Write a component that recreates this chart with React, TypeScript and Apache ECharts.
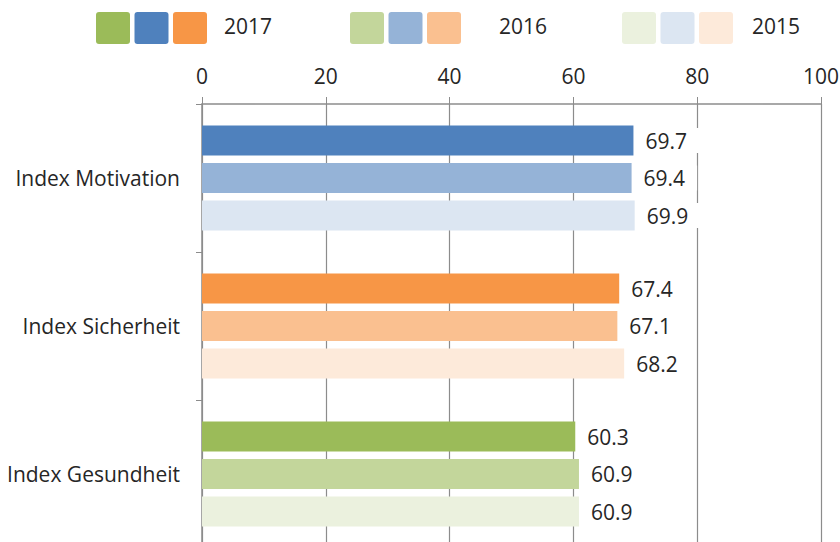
import React, { useEffect, useRef } from "react";
import * as echarts from "echarts";

const categories = ["Index Motivation", "Index Sicherheit", "Index Gesundheit"];
const years = ["2017", "2016", "2015"];
const values2017 = [69.7, 67.4, 60.3];
const values2016 = [69.4, 67.1, 60.9];
const values2015 = [69.9, 68.2, 60.9];
const xTicks = { min: 0, max: 100, interval: 20 };

// colours per year, per category (Motivation=blue, Sicherheit=orange, Gesundheit=green)
const colors2017 = ["#4F81BD", "#F79646", "#9BBB59"];
const colors2016 = ["#95B3D7", "#FAC090", "#C3D69B"];
const colors2015 = ["#DCE6F2", "#FDEADA", "#EBF1DE"];
// legend swatch order: green, blue, orange
const legendOrder = [2, 0, 1];

const FONT = "Open Sans";
const TEXT = "#262626";
const LINE = "#8C8C8C";

export default function App() {
  const ref = useRef<HTMLDivElement>(null);
  useEffect(() => {
    if (!ref.current) return;
    const chart = echarts.init(ref.current, null, { renderer: "svg" });
    const seriesValues = [values2017, values2016, values2015];
    const seriesColors = [colors2017, colors2016, colors2015];

    const legendX = [96, 350, 622];
    const legendTextX = [224, 499, 752];
    const graphic: any[] = [];
    years.forEach((y, i) => {
      legendOrder.forEach((ci, k) => {
        graphic.push({
          type: "rect",
          left: legendX[i] + k * 38.5,
          top: 12,
          shape: { width: 34, height: 32, r: 3 },
          style: { fill: seriesColors[i][ci] },
        });
      });
      graphic.push({
        type: "text",
        left: legendTextX[i],
        top: 15,
        style: { text: y, fontSize: 21, fontFamily: FONT, fill: TEXT },
      });
    });

    chart.setOption({
      animation: false,
      textStyle: { fontFamily: FONT },
      grid: {
        left: 202,
        width: 619,
        top: 104,
        height: 444,
        containLabel: false,
        outerBoundsMode: "none",
      },
      xAxis: {
        type: "value",
        position: "top",
        min: xTicks.min,
        max: xTicks.max,
        interval: xTicks.interval,
        axisLine: { show: true, lineStyle: { color: LINE, width: 1.5 } },
        axisTick: { show: true, length: 7, lineStyle: { color: LINE } },
        axisLabel: { fontSize: 21, color: TEXT, margin: 18, fontFamily: FONT },
        splitLine: { show: true, lineStyle: { color: LINE, width: 1.2 } },
      },
      yAxis: {
        type: "category",
        inverse: true,
        data: categories,
        axisLine: { show: true, lineStyle: { color: LINE, width: 1.5 } },
        axisTick: { show: true, length: 6, lineStyle: { color: LINE } },
        axisLabel: { fontSize: 21, color: TEXT, margin: 22, fontFamily: FONT },
      },
      graphic,
      series: years.map((y, i) => ({
        type: "bar",
        name: y,
        barWidth: 30,
        barGap: "25%",
        data: seriesValues[i].map((v, j) => ({
          value: v,
          itemStyle: { color: seriesColors[i][j] },
        })),
        label: {
          show: true,
          position: "right",
          distance: 8,
          fontSize: 21,
          color: TEXT,
          fontFamily: FONT,
          backgroundColor: "#ffffff",
          padding: [2, 12, 2, 4],
          formatter: (p: any) => p.value.toFixed(1),
        },
      })),
    });
    return () => chart.dispose();
  }, []);
  return (
    <div
      ref={ref}
      style={{ position: "absolute", left: 0, top: 0, width: 840, height: 542 }}
    />
  );
}
